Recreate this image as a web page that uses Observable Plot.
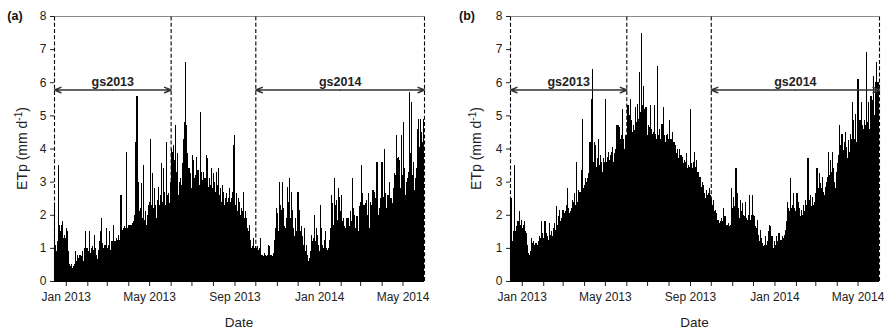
<!DOCTYPE html>
<html>
<head>
<meta charset="utf-8">
<script src="https://cdn.jsdelivr.net/npm/d3@7"></script>
<script src="https://cdn.jsdelivr.net/npm/@observablehq/plot@0.6"></script>
<style>
  body { margin: 0; background: #fff; }
  #wrap { position: relative; width: 884px; height: 331px; overflow: hidden; }
  #wrap svg { position: absolute; top: 0; overflow: visible; }
</style>
</head>
<body>
<div id="wrap"></div>
<script>
// ---- data -------------------------------------------------------------
// first day of each block of daily values (first block starts 15 Dec 2012)
const monthStarts = ["2012-12-15","2013-01-01","2013-02-01","2013-03-01","2013-04-01","2013-05-01",
  "2013-06-01","2013-07-01","2013-08-01","2013-09-01","2013-10-01","2013-11-01","2013-12-01",
  "2014-01-01","2014-02-01","2014-03-01","2014-04-01","2014-05-01"];

// panel (a): daily ETp (mm d-1), one inner array per month
const etpA = [
  [2.3,1.0,1.1,0.9,1.2,1.0,3.5,1.7,1.3,1.5,1.7,1.3,1.8,1.3,1.4,1.3,1.3],
  [1.2,1.6,1.5,0.9,0.5,0.5,0.45,0.4,0.5,0.4,0.4,0.45,0.5,0.9,0.75,0.6,0.7,0.8,0.7,0.65,0.8,0.7,0.75,0.9,0.85,0.6,0.9,1.0,1.5,0.8,1.0],
  [0.95,0.9,1.0,1.5,0.85,1.0,0.9,1.05,0.8,0.95,1.4,1.0,0.7,0.8,0.65,0.95,0.9,1.2,1.5,1.0,1.9,1.15,0.9,1.0,0.85,1.1,0.95,1.6],
  [1.0,0.95,1.1,1.5,1.0,0.95,1.05,1.2,1.0,1.7,1.2,1.1,1.2,1.15,1.3,1.25,1.4,1.3,1.25,1.35,2.6,1.5,1.55,1.6,1.5,1.65,1.55,1.6,3.9,1.6,1.55],
  [1.7,1.5,1.7,1.6,1.7,1.55,1.75,1.8,2.0,1.8,4.2,1.9,5.6,1.9,3.0,2.1,1.8,2.2,2.95,2.0,1.9,3.5,2.0,1.85,2.1,1.7,1.55,2.0,2.2,2.3],
  [2.4,4.2,4.3,2.3,2.5,3.25,2.2,2.8,2.0,2.3,1.9,2.45,2.1,2.85,2.3,2.2,2.6,3.55,2.5,2.4,3.4,2.7,2.55,2.3,2.8,4.2,2.6,2.65,2.5,2.35,2.6],
  [3.0,4.0,3.9,4.1,3.2,3.65,2.9,4.7,3.3,3.85,2.8,2.6,3.0,2.65,3.1,2.9,3.55,3.0,4.3,4.8,4.5,6.6,4.7,3.5,3.85,3.0,3.4,2.9,3.25,2.8],
  [2.7,3.8,3.0,3.65,3.1,2.95,3.2,3.75,3.0,3.35,3.1,2.9,4.6,5.1,3.3,3.05,2.8,3.3,2.7,3.1,2.9,3.8,3.7,3.0,2.85,3.1,2.75,2.9,3.0,3.4,2.8],
  [3.25,3.0,2.8,2.7,3.0,3.3,2.9,3.4,3.4,2.6,2.6,2.8,2.4,2.9,2.5,2.7,2.3,2.0,2.5,2.65,2.4,2.2,2.5,2.8,2.0,2.4,2.5,2.7,2.2,4.1,4.4],
  [2.6,2.3,2.65,2.2,2.1,2.5,2.4,2.25,2.0,2.2,2.0,2.1,2.7,2.3,1.9,2.1,1.75,1.9,1.6,1.45,1.5,1.7,1.2,1.25,1.0,0.9,1.05,1.3,1.0,0.95],
  [1.05,1.0,1.05,0.9,0.95,0.85,1.0,1.3,0.8,0.75,0.8,0.7,0.75,0.85,0.8,0.75,0.7,0.8,0.85,1.1,1.05,0.8,0.75,0.8,0.7,0.75,0.85,1.25,1.1,1.6,2.2],
  [1.7,2.05,1.5,3.0,2.3,1.8,2.15,1.9,3.0,2.2,1.65,1.4,1.6,1.45,1.9,2.85,2.0,2.4,3.1,1.9,2.7,1.8,2.15,1.5,1.6,1.35,1.2,1.9,1.5,1.7],
  [2.7,1.8,2.15,1.5,1.4,1.65,1.2,1.35,1.1,1.6,1.2,0.9,1.1,0.8,0.7,0.6,0.65,0.7,0.9,1.4,1.0,1.2,0.9,1.3,2.0,1.2,1.6,1.0,1.4,1.1,0.95],
  [0.9,1.3,2.3,1.6,1.1,0.9,1.0,1.25,1.5,0.9,1.0,0.95,0.9,1.0,1.25,1.0,1.6,2.6,2.0,2.35,1.7,2.2,3.1,2.3,2.45,1.9,1.85,2.8,2.0,2.55,1.9],
  [2.1,2.6,1.8,1.55,1.9,1.65,1.4,1.6,1.9,1.5,1.9,1.7,1.65,1.5,2.1,1.8,2.4,3.1,2.2,1.85,2.0,1.6,1.55,1.95,1.65,1.5,2.25,1.9],
  [2.4,3.5,2.2,2.65,2.0,2.3,1.95,2.2,2.35,2.45,2.0,2.65,1.9,1.6,2.4,2.05,2.3,2.0,2.75,2.2,2.7,2.1,2.5,3.6,3.6,2.45,2.0,2.2,1.8,2.5,3.6],
  [2.3,3.6,2.55,4.0,2.3,2.65,1.45,2.2,2.6,2.0,2.6,3.0,2.25,2.5,2.1,2.35,2.8,2.6,3.25,3.2,2.9,4.4,3.3,3.7,3.75,3.65,2.8,2.15,4.4,3.0],
  [3.2,4.8,3.4,3.05,2.6,3.0,2.7,3.1,3.3,2.9,5.7,3.85,5.4,3.05,3.2,3.6,2.8,2.75,3.1,3.05,3.4,4.6,4.9,4.9,4.05,3.6,4.9,4.5,3.5,4.2,4.9]
];

// panel (b): daily ETp (mm d-1), one inner array per month
const etpB = [
  [2.5,2.5,2.0,1.2,1.3,1.5,3.5,1.5,1.5,1.65,1.5,1.8,1.6,2.1,1.7,1.6,1.85],
  [1.6,1.5,1.7,1.4,1.8,1.5,1.45,1.1,0.95,0.85,0.75,0.8,0.9,1.3,1.0,1.15,1.2,1.0,1.1,0.95,1.15,1.05,1.1,1.0,1.2,1.35,1.1,1.3,1.8,1.2,1.45],
  [1.3,1.4,1.8,1.3,1.45,1.35,1.3,1.25,1.4,1.75,1.4,1.45,1.5,1.35,1.6,1.5,1.75,1.55,1.5,2.25,1.7,1.95,1.6,2.15,1.75,1.8,1.9,1.7],
  [2.15,1.9,2.05,1.95,2.1,2.3,2.0,2.8,2.2,2.05,1.9,2.1,2.2,2.0,2.45,2.3,2.4,2.65,2.3,2.5,3.6,2.4,2.75,2.6,2.7,2.5,2.7,3.35,4.9,2.7,2.8],
  [2.9,3.1,2.75,3.0,2.85,3.1,3.25,2.9,4.2,3.3,3.2,5.5,6.4,3.6,4.2,3.5,4.1,3.3,3.45,3.7,4.3,3.5,3.05,3.8,3.45,3.6,3.3,3.7,3.5,3.6],
  [4.4,5.5,3.6,3.75,3.55,3.9,3.65,3.4,3.8,3.9,3.7,4.05,3.6,3.2,3.85,4.0,4.45,4.7,4.2,4.7,4.65,4.1,4.3,4.4,3.9,5.2,4.3,4.1,4.0,4.3,4.4],
  [4.2,4.9,5.3,4.6,5.0,5.5,4.8,4.85,4.5,4.3,4.7,4.55,4.4,5.25,4.8,4.6,5.35,4.9,6.0,6.3,5.1,6.0,7.5,5.3,5.9,5.2,4.45,4.6,5.25,4.5],
  [4.4,4.2,4.7,4.65,4.4,5.3,4.6,4.35,4.45,4.5,5.3,4.4,4.45,4.3,6.5,4.5,4.4,4.25,4.6,4.3,4.2,4.75,4.3,5.25,4.4,4.35,4.2,4.4,4.3,4.45,4.2],
  [4.3,4.85,4.2,4.3,4.0,4.5,4.1,4.2,4.2,3.9,4.1,3.85,4.0,3.9,3.7,4.0,3.8,3.6,3.8,3.5,3.75,3.55,3.65,3.4,3.6,3.85,3.3,3.4,3.5,3.45,3.3],
  [5.2,3.3,3.55,3.4,3.6,3.3,3.9,3.45,3.2,3.65,3.3,3.1,3.3,3.0,3.15,2.9,2.85,3.0,2.7,2.9,2.6,2.65,2.5,2.75,2.6,2.5,2.65,2.5,2.8,2.6],
  [2.5,2.5,2.3,2.45,2.2,2.1,2.15,1.9,2.05,1.8,1.85,1.7,1.75,1.8,1.65,1.9,1.7,1.8,2.2,1.75,1.95,1.7,1.65,1.7,1.6,1.75,1.55,1.65,1.7,2.3,2.8],
  [2.2,2.55,2.0,2.25,2.1,3.4,2.4,2.65,2.2,2.05,1.9,2.2,2.45,2.1,2.35,1.8,2.0,1.95,1.7,2.4,1.9,1.85,1.6,2.0,2.6,1.8,1.85,1.6,2.0,2.6],
  [2.0,1.95,1.7,1.65,1.5,1.6,1.85,1.4,1.35,1.2,1.55,1.3,1.1,1.15,1.05,1.0,1.1,1.0,1.35,1.1,1.0,1.2,1.5,1.7,1.4,1.65,1.3,1.35,1.1,1.0,1.05],
  [1.2,1.1,1.25,1.35,1.2,1.3,1.45,1.3,1.2,1.25,1.15,1.35,1.2,1.3,1.4,1.3,1.55,1.8,2.4,1.9,2.2,2.0,2.1,3.1,2.2,2.3,1.95,2.65,2.1,2.2,2.1],
  [2.2,2.65,2.1,2.4,2.2,2.0,1.95,2.1,2.15,2.0,2.2,2.3,2.1,2.45,2.3,2.2,2.9,3.7,2.5,2.45,2.3,2.6,2.25,2.4,2.55,2.3,2.4,2.3],
  [2.65,2.5,3.4,2.7,2.8,3.25,2.6,2.95,2.7,2.8,3.15,2.7,2.1,2.6,2.85,2.7,3.0,3.15,2.9,3.9,3.2,3.65,3.0,3.3,3.9,3.1,3.4,3.0,2.8,2.1,3.3],
  [3.55,3.3,3.8,4.7,3.6,4.1,3.7,4.45,3.9,3.95,3.6,4.2,4.5,3.8,4.05,3.7,4.1,4.25,3.9,4.45,4.3,4.1,5.4,4.4,4.85,4.3,5.05,4.5,4.2,6.1],
  [4.4,6.1,4.6,4.85,4.5,5.4,4.7,4.35,4.6,4.85,4.4,4.7,6.9,4.55,4.8,5.4,4.6,4.45,4.9,5.6,4.7,5.45,4.8,6.2,5.0,6.0,4.9,6.6,5.1,6.0,5.3]
];

// growing seasons
const seasonNames = ["gs2013", "gs2014"];
const seasonStarts = ["2012-12-15", "2013-10-01"];
const seasonEnds = ["2013-06-01", "2014-06-01"];

// axis
const xDomain = ["2012-12-15", "2014-06-01"];
const xTickLabels = ["Jan 2013", "May 2013", "Sep 2013", "Jan 2014", "May 2014"];
const yTicks = [0, 1, 2, 3, 4, 5, 6, 7, 8];

// ---- build ------------------------------------------------------------
const DAY = 864e5;
const toDate = s => new Date(s + "T00:00:00Z");

function rows(months) {
  const out = [];
  months.forEach((vals, i) => {
    const s = +toDate(monthStarts[i]);
    vals.forEach((v, j) => {
      const d0 = new Date(s + j * DAY);
      out.push({date: d0, next: new Date(+d0 + DAY), v});
    });
  });
  return out;
}

const fmt = d3.utcFormat("%b %Y");
const monthTicks = d3.utcMonths(toDate("2013-01-01"), toDate("2014-06-01"));
const bounds = [...seasonStarts, ...seasonEnds].map(toDate);
const arrowY = 5.78;
const arrows = [];
const labels = [];
seasonNames.forEach((n, i) => {
  const s = toDate(seasonStarts[i]), e = toDate(seasonEnds[i]);
  const m = new Date((+s + +e) / 2);
  arrows.push({x1: m, x2: s}, {x1: m, x2: e});
  labels.push({x: m, name: n});
});

function panel(values, o) {
  const data = rows(values);
  const plot = Plot.plot({
    width: 442, height: 331,
    marginLeft: o.ml, marginRight: o.mr, marginTop: 16, marginBottom: 50,
    style: {fontFamily: '"Liberation Sans", Arial, sans-serif', fontSize: "12px", color: "#222", background: "transparent"},
    x: {type: "utc", domain: xDomain.map(toDate), ticks: monthTicks,
        tickFormat: d => { const s = fmt(d); return xTickLabels.includes(s) ? s : ""; },
        tickSize: 5, tickPadding: 6, label: null},
    y: {domain: [0, 8], ticks: yTicks, tickSize: 4, tickPadding: 4, label: null},
    marks: [
      Plot.rect(data, {x1: "date", x2: "next", y1: 0, y2: "v", fill: "#000",
                       insetLeft: -0.2, insetRight: -0.2, shapeRendering: "crispEdges"}),
      Plot.ruleY([8], {stroke: "#8a8a8a", strokeWidth: 1}),
      Plot.ruleY([0], {stroke: "#000", strokeWidth: 1}),
      Plot.ruleX(bounds, {x: d => d, y1: 0, y2: 8, stroke: "#000", strokeWidth: 1.1, strokeDasharray: "4,2.2"}),
      Plot.arrow(arrows, {x1: "x1", x2: "x2", y1: arrowY, y2: arrowY, stroke: "#333", strokeWidth: 1.5, headLength: 7, headAngle: 45}),
      Plot.text(labels, {x: "x", y: arrowY, text: "name", dy: -8, fontWeight: "bold", fontSize: 12.5, fill: "#222"})
    ]
  });
  const svg = d3.select(plot);
  svg.style("left", o.left + "px");
  svg.append("text").attr("x", o.tagX).attr("y", 20).attr("font-size", 12.5).attr("font-weight", "bold")
     .attr("fill", "#111").attr("font-family", '"Liberation Sans", Arial, sans-serif').text(o.tag);
  const yt = svg.append("text")
     .attr("transform", `translate(${o.ytX},148.5) rotate(-90)`)
     .attr("text-anchor", "middle").attr("font-size", 14).attr("fill", "#222")
     .attr("font-family", '"Liberation Sans", Arial, sans-serif');
  yt.append("tspan").text("ETp (mm d");
  yt.append("tspan").attr("dy", -5).attr("font-size", 10).text("-1");
  yt.append("tspan").attr("dy", 5).text(")");
  const cx = o.ml + (442 - o.ml - o.mr) / 2;
  svg.append("text").attr("x", cx).attr("y", 327).attr("text-anchor", "middle")
     .attr("font-size", 13.5).attr("fill", "#222")
     .attr("font-family", '"Liberation Sans", Arial, sans-serif').text("Date");
  return plot;
}

const wrap = document.getElementById("wrap");
wrap.appendChild(panel(etpA, {left: 0, ml: 54, mr: 18, tag: "(a)", tagX: 15, ytX: 27}));
wrap.appendChild(panel(etpB, {left: 442, ml: 68, mr: 5, tag: "(b)", tagX: 25, ytX: 39}));
</script>
</body>
</html>
